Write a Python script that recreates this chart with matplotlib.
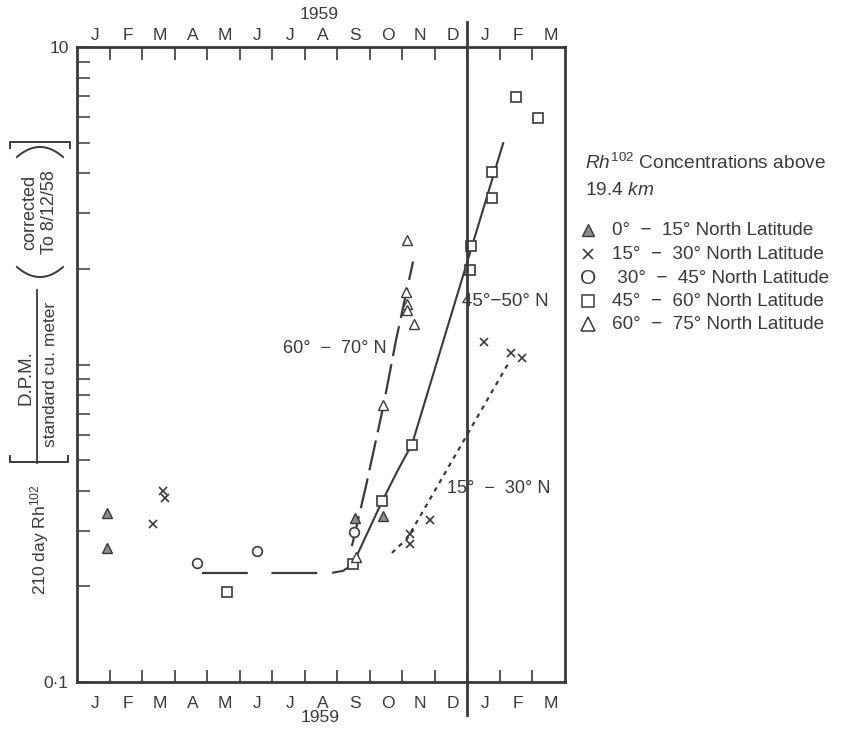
import matplotlib
matplotlib.use('Agg')
import matplotlib.pyplot as plt
import numpy as np
from matplotlib.ticker import LogLocator, NullFormatter

plt.rcParams['font.family'] = ['Liberation Sans', 'DejaVu Sans']
plt.rcParams['mathtext.fontset'] = 'custom'
plt.rcParams['mathtext.rm'] = 'Liberation Sans'
plt.rcParams['mathtext.it'] = 'Liberation Sans:italic'
plt.rcParams['lines.scale_dashes'] = False

# ---------------- data (x = months since 1 Jan 1959) ----------------
month_labels = ['J', 'F', 'M', 'A', 'M', 'J', 'J', 'A', 'S', 'O', 'N', 'D', 'J', 'F', 'M']
year_label = '1959'

lat_0_15_x = [0.92, 0.92, 8.55, 9.41]
lat_0_15_y = [0.34, 0.265, 0.328, 0.333]

lat_15_30_x = [2.34, 2.64, 2.71, 10.24, 10.24, 10.85, 12.51, 13.34, 13.68]
lat_15_30_y = [0.314, 0.401, 0.379, 0.292, 0.272, 0.323, 1.175, 1.09, 1.05]

lat_30_45_x = [3.69, 5.53, 8.52]
lat_30_45_y = [0.237, 0.259, 0.296]

lat_45_60_x = [4.61, 8.48, 9.38, 10.30, 12.08, 12.11, 12.76, 12.76, 13.50, 14.17]
lat_45_60_y = [0.192, 0.235, 0.371, 0.558, 1.99, 2.36, 3.35, 4.03, 6.98, 5.98]

lat_60_75_x = [8.58, 9.41, 10.11, 10.14, 10.14, 10.14, 10.36]
lat_60_75_y = [0.248, 0.744, 1.69, 2.46, 1.55, 1.48, 1.34]

# fitted curves drawn on the original
base_x = [3.84, 7.41]
base_y = [0.221, 0.221]
curve_45_50_x = [7.87, 8.18, 8.48, 8.88, 9.38, 9.84, 10.30, 13.10]
curve_45_50_y = [0.221, 0.224, 0.235, 0.288, 0.371, 0.46, 0.562, 4.98]
curve_60_70_x = [8.45, 8.88, 9.41, 9.81, 10.33]
curve_60_70_y = [0.268, 0.413, 0.734, 1.20, 2.11]
curve_15_30_x = [9.68, 9.90, 10.14, 13.31]
curve_15_30_y = [0.255, 0.268, 0.282, 1.03]

legend_labels = ['0°  −  15° North Latitude', '15°  −  30° North Latitude',
                 ' 30°  −  45° North Latitude', '45°  −  60° North Latitude',
                 '60°  −  75° North Latitude']

INK = '#3a3a3a'
GRAY = '#8c8c8c'

W, H = 849, 729
fig = plt.figure(figsize=(W / 100, H / 100), dpi=100)


def fx(x):
    return x / W


def fy(y):
    return 1 - y / H


ax = fig.add_axes([fx(77), fy(682), fx(565) - fx(77), fy(47) - fy(682)])
ax.patch.set_alpha(0)
ax.set_yscale('log')
ax.set_ylim(0.1, 10)
ax.set_xlim(0, 15)

# curves
ax.plot(base_x, base_y, color=INK, lw=1.6, dashes=(33, 17))
ax.plot(curve_45_50_x, curve_45_50_y, color=INK, lw=1.5)
ax.plot(curve_60_70_x, curve_60_70_y, color=INK, lw=1.6, dashes=(22, 6))
ax.plot(curve_15_30_x, curve_15_30_y, color=INK, lw=1.6, dashes=(3.2, 3.6))

# markers
ax.plot(lat_0_15_x, lat_0_15_y, ls='none', marker='^', ms=6.5, mfc=GRAY, mec=INK, mew=1.0)
ax.plot(lat_15_30_x, lat_15_30_y, ls='none', marker='x', ms=5.5, mec=INK, mew=1.2)
ax.plot(lat_30_45_x, lat_30_45_y, ls='none', marker='o', ms=7, mfc='white', mec=INK, mew=1.2)
ax.plot(lat_45_60_x, lat_45_60_y, ls='none', marker='s', ms=6.5, mfc='white', mec=INK, mew=1.2)
ax.plot(lat_60_75_x, lat_60_75_y, ls='none', marker='^', ms=6.5, mfc='white', mec=INK, mew=1.0)

# annotations
ax.text(9.53, 1.12, '60°  −  70° N', ha='right', va='center', fontsize=13, color=INK)
ax.text(11.84, 1.58, '45°−50° N', ha='left', va='center', fontsize=13.5, color=INK)
ax.text(11.37, 0.407, '15°  −  30° N', ha='left', va='center', fontsize=13, color=INK)

# x ticks: month boundaries (major) and labels at month centres (minor)
ax.set_xticks(np.arange(1, 15))
ax.set_xticklabels([])
ax.set_xticks(np.arange(15) + 0.55, minor=True)
ax.set_xticklabels(month_labels, minor=True)
ax.tick_params(axis='x', which='major', direction='in', length=9, width=1.2,
               top=True, bottom=True, color=INK)
ax.tick_params(axis='x', which='minor', length=0, pad=10, top=False, bottom=True,
               labeltop=False, labelbottom=True, labelsize=12.5, labelcolor=INK)

sec = ax.secondary_xaxis('top')
sec.set_xticks(np.arange(15) + 0.55)
sec.set_xticklabels(month_labels)
sec.tick_params(length=0, pad=3, labelsize=12.5, labelcolor=INK)
sec.spines['top'].set_visible(False)

# y ticks
ax.set_yticks([0.1, 1, 10])
ax.set_yticklabels(['0·1', '', '10'])
ax.yaxis.set_minor_locator(LogLocator(base=10, subs=range(2, 10)))
ax.yaxis.set_minor_formatter(NullFormatter())
ax.tick_params(axis='y', which='both', direction='in', length=9, width=1.1,
               left=True, right=False, color=INK, labelsize=12.5, labelcolor=INK, pad=6)

for sp in ax.spines.values():
    sp.set_linewidth(2.0)
    sp.set_color(INK)

# year divider
ax.plot([12, 12], [-0.052, 1.039], transform=ax.get_xaxis_transform(), clip_on=False,
        color=INK, lw=2.0)

# ---------------- overlay for text decorations ----------------
ov = fig.add_axes([0, 0, 1, 1], zorder=-1)
ov.set_xlim(0, W)
ov.set_ylim(H, 0)
ov.axis('off')

ov.text(319, 14, year_label, ha='center', va='center', fontsize=12.5, color=INK)
ov.text(320, 718, year_label, ha='center', va='center', fontsize=12.5, color=INK)

# y label pieces
ov.text(40, 540, r'210 day Rh$^{102}$', rotation=90, ha='center', va='center', fontsize=12.5, color=INK)
ov.text(26, 378, 'D.P.M.', rotation=90, ha='center', va='center', fontsize=13.5, color=INK)
ov.text(51, 374, 'standard cu. meter', rotation=90, ha='center', va='center', fontsize=12.5, color=INK)
ov.plot([37, 37], [290, 463], color=INK, lw=1.3)
ov.plot([10, 10, 68, 68], [456, 462, 462, 456], color=INK, lw=1.4)
ov.plot([10, 10, 70, 70], [148, 142, 142, 148], color=INK, lw=1.4)
xs = np.linspace(17, 63, 40)
ov.plot(xs, 267 + 10 * (1 - ((xs - 40) / 23) ** 2), color=INK, lw=1.4)
ov.plot(xs, 157 - 10 * (1 - ((xs - 40) / 23) ** 2), color=INK, lw=1.4)
ov.text(30, 212, 'corrected', rotation=90, ha='center', va='center', fontsize=13, color=INK)
ov.text(50, 212, 'To 8/12/58', rotation=90, ha='center', va='center', fontsize=13, color=INK)

# legend
ov.text(585, 163, r'$\mathit{Rh}^{102}$ Concentrations above', ha='left', va='center', fontsize=13.8, color=INK)
ov.text(585, 190, r'19.4 $\mathit{km}$', ha='left', va='center', fontsize=13.8, color=INK)
leg_y = [230, 254, 278, 301, 324]
ov.plot(588, leg_y[0], marker='^', ms=9, mfc=GRAY, mec=INK, mew=1.0)
ov.plot(588, leg_y[1], marker='x', ms=7, mec=INK, mew=1.2)
ov.text(588, leg_y[2], 'O', ha='center', va='center', fontsize=15, color=INK)
ov.plot(588, leg_y[3], marker='s', ms=9, mfc='white', mec=INK, mew=1.1)
ov.plot(588, leg_y[4], marker='^', ms=10, mfc='white', mec=INK, mew=1.1)
for yy, lab in zip(leg_y, legend_labels):
    ov.text(612, yy, lab, ha='left', va='center', fontsize=13.6, color=INK)

fig.savefig('out.png', dpi=100)
